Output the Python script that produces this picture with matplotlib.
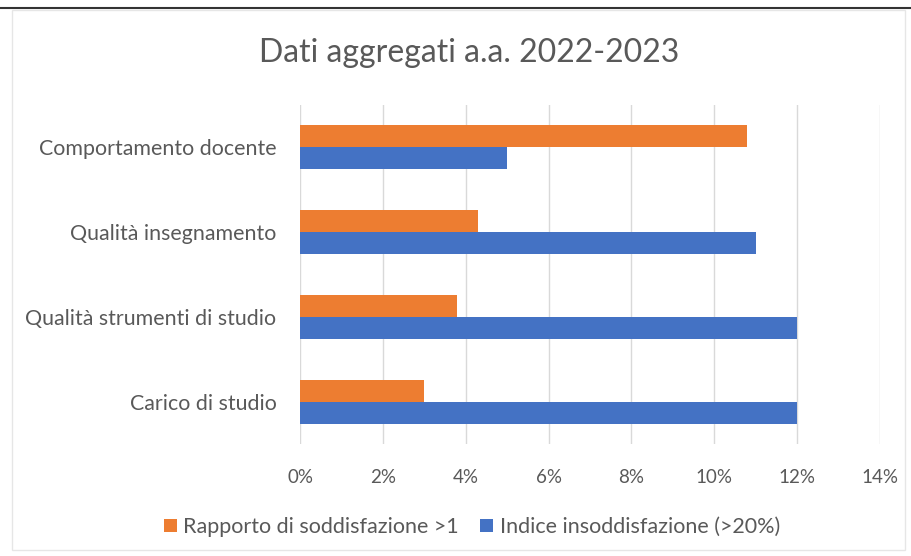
import matplotlib.pyplot as plt
from matplotlib.ticker import PercentFormatter, MultipleLocator
import numpy as np

categories = ["Comportamento docente", "Qualità insegnamento",
              "Qualità strumenti di studio", "Carico di studio"]
rapporto = [0.108, 0.043, 0.038, 0.030]
indice = [0.050, 0.110, 0.120, 0.120]
series_names = ["Rapporto di soddisfazione >1", "Indice insoddisfazione (>20%)"]

plt.rcParams['font.family'] = ['Lato', 'DejaVu Sans']
grey = '#595959'

fig = plt.figure(figsize=(9.12, 5.56), dpi=100)
ax = fig.add_axes([300 / 912, 1 - 444 / 556, 580 / 912, 339 / 556])

y = np.arange(len(categories))
h = 0.26
ax.barh(y - h / 2, rapporto, height=h, color='#ED7D31', label=series_names[0], zorder=3)
ax.barh(y + h / 2, indice, height=h, color='#4472C4', label=series_names[1], zorder=3)

ax.set_xlim(0, 0.14)
ax.set_ylim(len(categories) - 0.5, -0.5)
ax.set_yticks(y)
ax.set_yticklabels(categories, fontsize=15.4, color=grey)
ax.xaxis.set_major_locator(MultipleLocator(0.02))
ax.xaxis.set_major_formatter(PercentFormatter(1.0, decimals=0))
ax.tick_params(axis='x', labelsize=13.5, colors=grey, length=0, pad=18)
ax.tick_params(axis='y', length=0, pad=17)
ax.grid(axis='x', color='#D9D9D9', linewidth=1, zorder=0)
for s in ax.spines.values():
    s.set_visible(False)

fig.text(469 / 912, 1 - 53 / 556, "Dati aggregati a.a. 2022-2023", ha='center', va='center',
         fontsize=23, color=grey)

fig.legend(loc='center', bbox_to_anchor=(472 / 912, 1 - 527 / 556), ncol=2, frameon=False,
           fontsize=15.5, labelcolor=grey, handlelength=0.6, handleheight=0.6,
           handletextpad=0.3, columnspacing=1.0)

# chart border and the dark edge along the top of the scan
fig.add_artist(plt.Rectangle((12 / 912, 0.01), 893 / 912, 1 - 10 / 556 - 0.01,
                             transform=fig.transFigure, fill=False,
                             edgecolor='#E6E6E6', linewidth=1))
fig.add_artist(plt.Line2D([0, 1], [1 - 8 / 556, 1 - 8 / 556], transform=fig.transFigure,
                          color='#333333', linewidth=1.5))

fig.savefig("out.png", dpi=100)
